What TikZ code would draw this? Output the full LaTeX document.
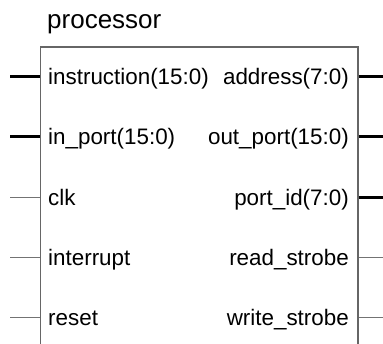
\documentclass[tikz,border=0pt]{standalone}
\usepackage{fontspec}
\setmainfont{Liberation Sans}
\tikzset{
    port/.style={font=\fontsize{22.4}{25}\selectfont, inner sep=0pt},
    bus/.style={line width=3pt, black},
    wire/.style={line width=1pt, black!55},
}
\begin{document}
\begin{tikzpicture}[x=1pt,y=-1pt]
    \useasboundingbox (0,0) rectangle (383,343);

    % Block outline (runs past the bottom edge)
    \node[draw=black!60, line width=1.5pt, anchor=north west, inner sep=0pt,
          minimum width=317.5pt, minimum height=330pt] (proc) at (39.5,46) {};
    \node[anchor=base west, inner sep=0pt, font=\fontsize{26}{30}\selectfont] (title) at (47,28) {processor};

    % Inputs
    \node[port, anchor=base west] (instr) at (48,84) {instruction(15:0)};
    \node[port, anchor=base west] (inport) at (48,144) {in\_port(15:0)};
    \node[port, anchor=base west] (clk) at (48,205) {clk};
    \node[port, anchor=base west] (irq) at (48,265) {interrupt};
    \node[port, anchor=base west] (reset) at (48,325) {reset};

    % Outputs
    \node[port, anchor=base east] (addr) at (349,84) {address(7:0)};
    \node[port, anchor=base east] (outport) at (349,144) {out\_port(15:0)};
    \node[port, anchor=base east] (portid) at (349,205) {port\_id(7:0)};
    \node[port, anchor=base east] (rd) at (349,265) {read\_strobe};
    \node[port, anchor=base east] (wr) at (349,325) {write\_strobe};

    % Pin ends
    \coordinate (instr pin) at (10,76);
    \coordinate (inport pin) at (10,136);
    \coordinate (clk pin) at (10,197);
    \coordinate (irq pin) at (10,257);
    \coordinate (reset pin) at (10,317);
    \coordinate (addr pin) at (383,76);
    \coordinate (outport pin) at (383,136);
    \coordinate (portid pin) at (383,197);
    \coordinate (rd pin) at (383,257);
    \coordinate (wr pin) at (383,317);

    % Pins
    \draw[bus] (instr pin) -- (proc.west |- instr pin);
    \draw[bus] (inport pin) -- (proc.west |- inport pin);
    \draw[wire] (clk pin) -- (proc.west |- clk pin);
    \draw[wire] (irq pin) -- (proc.west |- irq pin);
    \draw[wire] (reset pin) -- (proc.west |- reset pin);
    \draw[bus] (proc.east |- addr pin) -- (addr pin);
    \draw[bus] (proc.east |- outport pin) -- (outport pin);
    \draw[bus] (proc.east |- portid pin) -- (portid pin);
    \draw[wire] (proc.east |- rd pin) -- (rd pin);
    \draw[wire] (proc.east |- wr pin) -- (wr pin);
\end{tikzpicture}
\end{document}
